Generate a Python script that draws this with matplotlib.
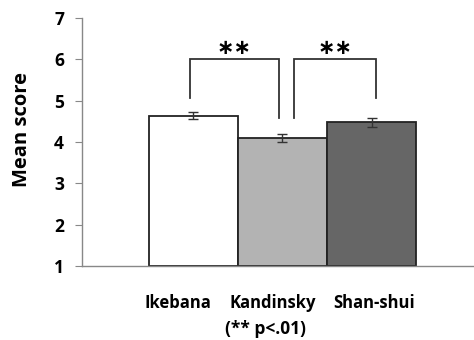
import matplotlib
matplotlib.use('Agg')
import matplotlib.pyplot as plt
import numpy as np

plt.rcParams['font.family'] = ['Open Sans', 'DejaVu Sans']
plt.rcParams['font.weight'] = 'bold'

# mean scores and standard errors per art style
styles = ['Ikebana', 'Kandinsky', 'Shan-shui']
means = [4.64, 4.09, 4.48]
errors = [0.09, 0.10, 0.11]
bar_colors = ['#ffffff', '#b3b3b3', '#666666']

fig = plt.figure(figsize=(4.74, 3.40), dpi=100)
ax = fig.add_axes([0.173, 0.2176, 0.825, 0.7294])

x = np.arange(len(styles))
ax.bar(x, np.array(means) - 1, bottom=1, width=1.0, color=bar_colors,
       edgecolor='#222222', linewidth=1.3, zorder=2)
ax.errorbar(x, means, yerr=errors, fmt='none', ecolor='#333333',
            elinewidth=1, capsize=3.5, capthick=1, zorder=3)

# significance brackets
def bracket(x0, x1, y0, y1, top, label):
    ax.plot([x0, x0, x1, x1], [y0, top, top, y1], color='#333333', lw=1.3,
            solid_joinstyle='miter', clip_on=False)
    ax.text((x0 + x1) / 2, top + 0.02, label, ha='center', va='bottom',
            fontsize=15, fontweight='bold', family='DejaVu Sans')

bracket(x[0] - 0.04, x[1] - 0.04, 5.06, 4.57, 6.01, '∗∗')
bracket(x[1] + 0.13, x[2] + 0.05, 4.57, 5.06, 6.01, '∗∗')

ax.set_xlim(-1.245, 3.135)
ax.set_ylim(1, 7)
ax.set_yticks(range(1, 8))
ax.tick_params(axis='y', length=5, width=0.8, color='#888888', pad=8,
               labelsize=12.5)
ax.set_xticks(x + np.array([-0.17, -0.11, 0.03]))
ax.set_xticklabels(styles, fontsize=12, fontweight='bold')
ax.tick_params(axis='x', length=0, pad=20)
for lab in ax.get_yticklabels():
    lab.set_fontweight('bold')

for s in ['top', 'right']:
    ax.spines[s].set_visible(False)
ax.spines['left'].set_color('#888888')
ax.spines['bottom'].set_color('#888888')
ax.spines['left'].set_linewidth(1)
ax.spines['bottom'].set_linewidth(1)

ax.set_ylabel('Mean score', fontsize=14.5, fontweight='bold')
ax.yaxis.set_label_coords(-0.128, 0.55)

ax.text(0.81, -0.255, '(** p<.01)', transform=ax.get_xaxis_transform(),
        ha='center', va='center', fontsize=12.5, fontweight='bold')

fig.savefig('out.png', dpi=100)
